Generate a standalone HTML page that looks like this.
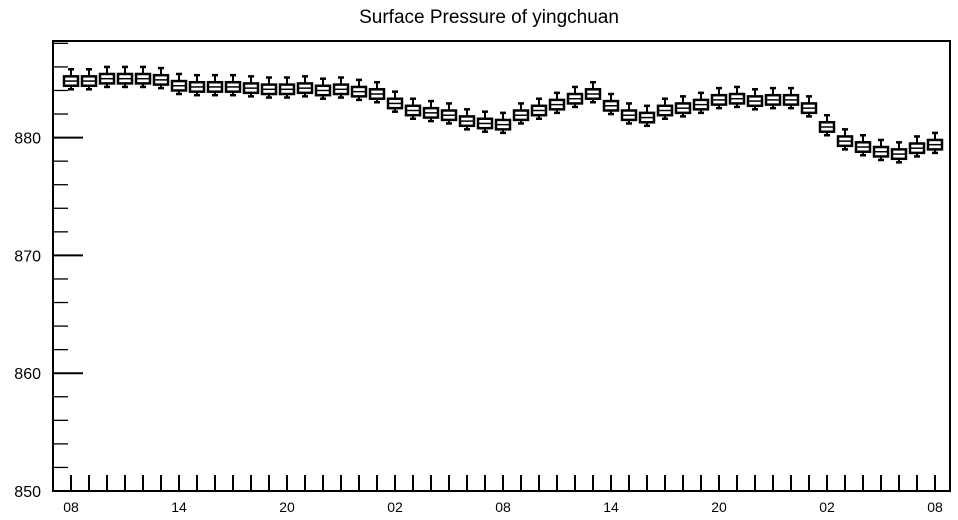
<!DOCTYPE html>
<html><head><meta charset="utf-8"><style>
body{margin:0;background:#fff;}
svg{display:block;font-family:"Liberation Sans",sans-serif;}
</style></head><body>
<svg id="chart" width="958" height="520">
<text x="489" y="23" text-anchor="middle" font-size="19">Surface Pressure of yingchuan</text>
<g id="axes"></g>
<g id="boxes"></g>
</svg>
<script>
const categories = ["08","09","10","11","12","13","14","15","16","17","18","19","20","21","22","23","00","01","02","03","04","05","06","07","08","09","10","11","12","13","14","15","16","17","18","19","20","21","22","23","00","01","02","03","04","05","06","07","08"];
const medians = [884.8,884.8,885.0,885.0,885.0,884.9,884.4,884.3,884.3,884.3,884.2,884.1,884.1,884.2,884.0,884.1,883.9,883.7,882.9,882.3,882.1,881.9,881.4,881.2,881.1,881.9,882.3,882.8,883.3,883.7,882.7,881.9,881.7,882.3,882.5,882.8,883.2,883.3,883.1,883.2,883.2,882.5,880.9,879.7,879.2,878.8,878.6,879.1,879.4];
const q1Offsets = [-0.4];
const q3Offsets = [0.4];
const minOffsets = [-0.7];
const maxOffsets = [1.0];
const yTicks = [850,860,870,880];
const xLabelIdx = [0,6,12,18,24,30,36,42,48];

const L=53,R=950,T=41,B=491,yMin=850,yMax=888.2;
const x0=71,dx=18;
const xs=i=>x0+i*dx;
const ys=v=>B-(v-yMin)/(yMax-yMin)*(B-T);
const NS="http://www.w3.org/2000/svg";
function mk(tag,attrs,parent){const e=document.createElementNS(NS,tag);for(const k in attrs)e.setAttribute(k,attrs[k]);parent.appendChild(e);return e;}
const ax=document.getElementById('axes'), bx=document.getElementById('boxes');
const frame=mk('rect',{x:L,y:T,width:R-L,height:B-T,fill:'none',stroke:'#000','stroke-width':2},ax);


for(let v=850;v<=888;v+=2){
  const major=v%10===0;
  const t=mk('line',{x1:L,x2:L+(major?30:15),y1:ys(v),y2:ys(v),stroke:'#000','stroke-width':major?2:1.3},ax);
  
  
}
yTicks.forEach(v=>{
  const t=mk('text',{x:L-12,y:ys(v)+6,'text-anchor':'end','font-size':16},ax);
  t.textContent=v;
  
  
});
categories.forEach((c,i)=>{
  const t=mk('line',{x1:xs(i),x2:xs(i),y1:B,y2:B-16,stroke:'#000','stroke-width':2},ax);
  
  
});
xLabelIdx.forEach(i=>{
  const t=mk('text',{x:xs(i),y:512,'text-anchor':'middle','font-size':14},ax);
  t.textContent=categories[i];
  
  
});
medians.forEach((m,i)=>{
  const g=mk('g',{},bx);
  
  
  const x=xs(i),w=14;
  const q1=m+q1Offsets[0],q3=m+q3Offsets[0],mn=m+minOffsets[0],mx=m+maxOffsets[0];
  mk('line',{x1:x,x2:x,y1:ys(mx),y2:ys(q3),stroke:'#000','stroke-width':2},g);
  mk('line',{x1:x,x2:x,y1:ys(q1),y2:ys(mn),stroke:'#000','stroke-width':2},g);
  mk('line',{x1:x-3,x2:x+3,y1:ys(mx),y2:ys(mx),stroke:'#000','stroke-width':2.5},g);
  mk('line',{x1:x-3,x2:x+3,y1:ys(mn),y2:ys(mn),stroke:'#000','stroke-width':2.5},g);
  mk('rect',{x:x-w/2,y:ys(q3),width:w,height:ys(q1)-ys(q3),fill:'#fff',stroke:'#000','stroke-width':2.5},g);
  mk('line',{x1:x-w/2,x2:x+w/2,y1:ys(m),y2:ys(m),stroke:'#000','stroke-width':1.5},g);
});
</script>
</body></html>
